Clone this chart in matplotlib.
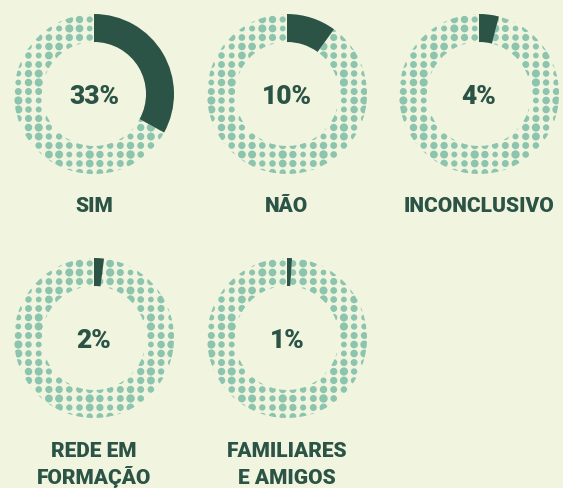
import numpy as np
import matplotlib
matplotlib.use("Agg")
import matplotlib.pyplot as plt

# ---- data ----
categories = ["SIM", "NÃO", "INCONCLUSIVO", "REDE EM\nFORMAÇÃO", "FAMILIARES\nE AMIGOS"]
values = [33, 10, 4, 2, 1]
value_labels = ["33%", "10%", "4%", "2%", "1%"]

# ---- style ----
BG = "#f1f5e0"
DARK = "#2c5446"
DOT = "#8cc4ad"
W, H = 563, 488
R_PX = 80.0
RING = 0.35
centers = [(94, 94), (287, 94), (479, 94), (94, 338), (287, 338)]

plt.rcParams['font.family'] = ['Roboto', 'DejaVu Sans']

fig = plt.figure(figsize=(W / 100, H / 100), dpi=100, facecolor=BG)
base = fig.add_axes([0, 0, 1, 1])
base.set_xlim(0, W)
base.set_ylim(H, 0)
base.axis("off")
base.set_facecolor(BG)

# dot grid (in units of radius)
dx = 10.2 / R_PX
dy = 9.0 / R_PX
xs = -4.3 / R_PX + dx * np.arange(-9, 10)
ys = 2.5 / R_PX + dy * np.arange(-10, 11)
GX, GY = np.meshgrid(xs, ys)
I, J = np.meshgrid(np.arange(len(xs)), np.arange(len(ys)))
rad_px = 3.5 + 0.7 * np.cos(I * 1.7) * np.cos(J * 1.1)
sizes = (2 * rad_px * 0.72) ** 2

for (cx, cy), v, vl, cat in zip(centers, values, value_labels, categories):
    left = (cx - R_PX) / W
    bottom = 1 - (cy + R_PX) / H
    ax = fig.add_axes([left, bottom, 2 * R_PX / W, 2 * R_PX / H])
    ax.set_facecolor("none")
    wedges, _ = ax.pie([v, 100 - v], startangle=90, counterclock=False,
                       colors=[DARK, "none"], radius=1,
                       wedgeprops=dict(width=RING, linewidth=0))
    sc = ax.scatter(GX.ravel(), GY.ravel(), s=sizes.ravel(), color=DOT,
                    linewidths=0, zorder=0)
    sc.set_clip_path(wedges[1])
    ax.set_xlim(-1, 1)
    ax.set_ylim(-1, 1)
    ax.set_aspect("equal")
    ax.axis("off")

    base.text(cx, cy + 9.5, vl, ha="center", va="baseline", fontsize=19,
              fontweight="black", color=DARK)
    lines = cat.split("\n")
    if len(lines) == 1:
        base.text(cx, cy + 118.5, lines[0], ha="center", va="baseline",
                  fontsize=15, fontweight="black", color=DARK)
    else:
        for k, ln in enumerate(lines):
            base.text(cx, cy + 119 + 27 * k, ln, ha="center", va="baseline",
                      fontsize=15, fontweight="black", color=DARK)

fig.savefig("out.png", dpi=100, facecolor=BG)
